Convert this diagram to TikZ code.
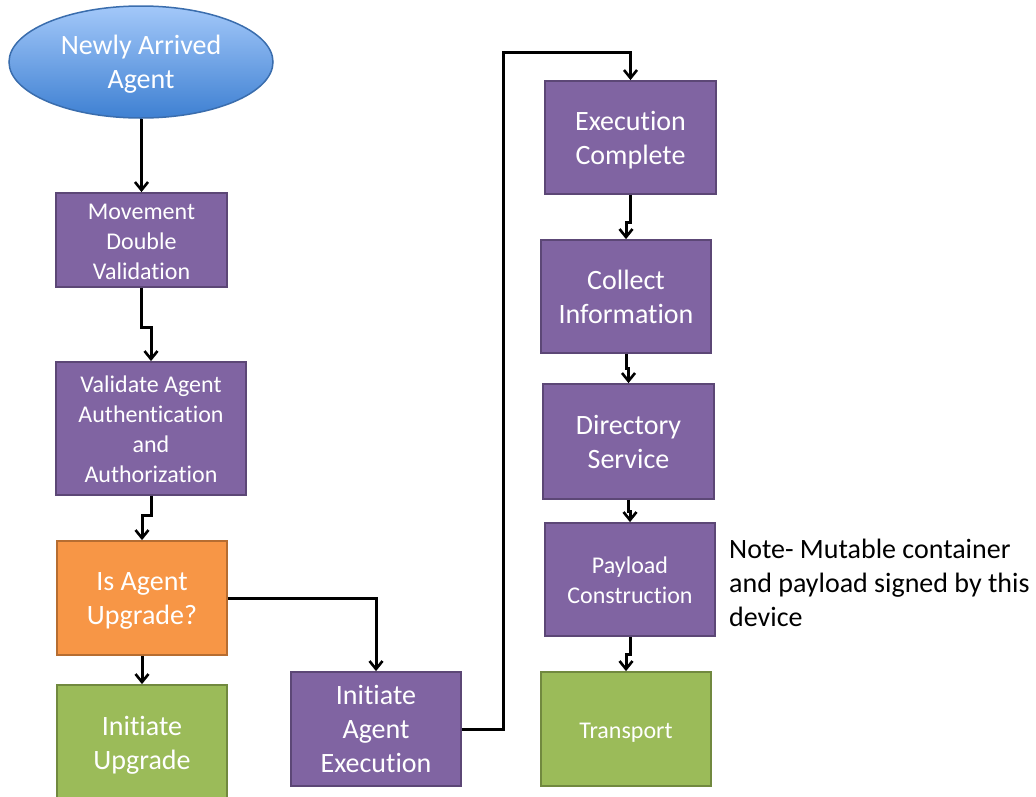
\documentclass[tikz,border=0pt]{standalone}
\usepackage{fontspec}
\setmainfont{Carlito}[RawFeature={-liga}]
\usetikzlibrary{shapes.geometric,arrows.meta,calc}
\definecolor{pfill}{HTML}{8064A2}
\definecolor{pdraw}{HTML}{5C4776}
\definecolor{ofill}{HTML}{F79646}
\definecolor{odraw}{HTML}{B66D31}
\definecolor{gfill}{HTML}{9BBB59}
\definecolor{gdraw}{HTML}{71893F}
\definecolor{btop}{HTML}{A3C8F9}
\definecolor{bbot}{HTML}{3E80D2}
\definecolor{bdraw}{HTML}{3A6DAD}
\newcommand{\dn}[1]{\raisebox{-3pt}[\height][\depth]{\begin{tabular}{@{}c@{}}#1\end{tabular}}}
\tikzset{
  box/.style={rectangle, line width=1.8pt, inner sep=2pt, align=center, text=white},
  big/.style={font=\fontsize{28}{34}\selectfont},
  small/.style={font=\fontsize{24}{30}\selectfont},
  purple/.style={box, fill=pfill, draw=pdraw},
  orange/.style={box, fill=ofill, draw=odraw},
  green/.style={box, fill=gfill, draw=gdraw},
  conn/.style={line width=3pt, -{Straight Barb[length=8pt,width=13pt,line width=2.6pt]}, line join=miter}
}
\begin{document}
\begin{tikzpicture}[x=1pt,y=-1pt]
\useasboundingbox (0,0) rectangle (1036,796);
\begin{scope}
\clip (0,0) rectangle (1036,796);
\node[ellipse, draw=bdraw, line width=1.5pt, top color=btop, bottom color=bbot, minimum width=264pt, minimum height=112pt, inner sep=0pt, align=center, text=white, big] (start) at (141,62) {\dn{Newly Arrived\\Agent}};
\node[purple, small, minimum width=171pt, minimum height=86pt] (mdv) at (141.5,240) {\dn{Movement\\Double\\Validation}};
\node[purple, small, minimum width=190pt, minimum height=133pt] (vaa) at (151,428.5) {\dn{Validate Agent\\Authentication\\and\\Authorization}};
\node[orange, big, minimum width=170pt, minimum height=114pt] (upg) at (142,598) {\dn{Is Agent\\Upgrade?}};
\node[green, big, minimum width=170pt, minimum height=115pt] (iup) at (142,742.5) {\dn{Initiate\\Upgrade}};
\node[purple, big, minimum width=170pt, minimum height=114pt] (iae) at (376,729) {\dn{Initiate\\Agent\\Execution}};
\node[purple, big, minimum width=171pt, minimum height=113pt] (exc) at (630.5,137.5) {\dn{Execution\\Complete}};
\node[purple, big, minimum width=170pt, minimum height=113pt] (col) at (626,296.5) {\dn{Collect\\Information}};
\node[purple, big, minimum width=171pt, minimum height=115pt] (dir) at (628.5,441.5) {\dn{Directory\\Service}};
\node[purple, small, minimum width=170pt, minimum height=113pt] (pay) at (630,579.5) {\dn{Payload\\Construction}};
\node[green, small, minimum width=170pt, minimum height=114pt] (tra) at (626,729) {\dn{Transport}};
\node[anchor=west, align=left, inner sep=0pt, big, text=black] (note) at (729,583) {Note- Mutable container\\and payload signed by this\\device};

\draw[conn] (start.south) -- ++(0,42) -| (mdv.north);
\draw[conn] (mdv.south) -- ++(0,40) -| (vaa.north);
\draw[conn] (vaa.south) -- ++(0,20) -| (upg.north);
\draw[conn] (upg.south) -- (iup.north);
\draw[conn] (upg.east) -| (iae.north);
\draw[conn] (iae.east) -- ++(42,0) |- ($(exc.north)+(0,-28)$) -- (exc.north);
\draw[conn] (exc.south) -- ++(0,28) -| (col.north);
\draw[conn] (col.south) -- ++(0,15) -| (dir.north);
\draw[conn] (dir.south) -- ++(0,12) -| (pay.north);
\draw[conn] (pay.south) -- ++(0,18) -| (tra.north);
\end{scope}
\end{tikzpicture}
\end{document}
